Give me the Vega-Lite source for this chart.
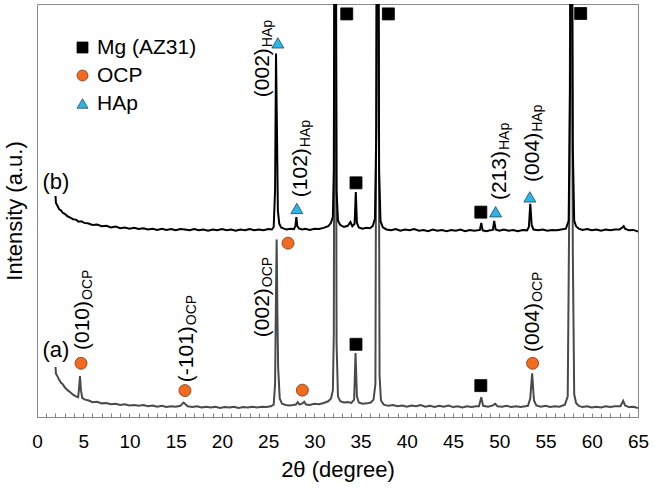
{
  "$schema": "https://vega.github.io/schema/vega-lite/v6.json",
  "autosize": "none",
  "width": 601,
  "height": 413,
  "padding": {"left": 37, "top": 4, "right": 17, "bottom": 73},
  "background": "white",
  "config": {
    "font": "Liberation Sans",
    "view": {"stroke": "#8a8a8a", "strokeWidth": 1},
    "legend": {
      "orient": "none",
      "legendX": 35,
      "legendY": 33,
      "labelFontSize": 21,
      "labelColor": "#000000",
      "labelFont": "Liberation Sans",
      "symbolSize": 120,
      "symbolStrokeWidth": 0.8,
      "labelOffset": 4,
      "rowPadding": 6,
      "padding": 0
    }
  },
  "datasets": {
    "traceB": [
      {"x":2.0,"y":53.5},{"x":2.05,"y":51.8},{"x":2.2,"y":51.2},{"x":2.4,"y":50.3},{"x":2.6,"y":50.0},{"x":2.8,"y":49.4},
      {"x":3.0,"y":49.2},{"x":3.3,"y":48.6},{"x":3.6,"y":48.3},{"x":3.9,"y":47.9},{"x":4.2,"y":47.8},{"x":4.5,"y":47.3},
      {"x":4.8,"y":47.4},{"x":5.1,"y":47.0},{"x":5.5,"y":46.9},{"x":6.0,"y":46.5},{"x":6.5,"y":46.6},{"x":7.0,"y":46.2},
      {"x":7.5,"y":46.3},{"x":8.0,"y":45.9},{"x":8.5,"y":46.1},{"x":9.0,"y":45.7},{"x":9.5,"y":45.9},{"x":10.0,"y":45.6},
      {"x":10.5,"y":45.8},{"x":11.0,"y":45.5},{"x":11.5,"y":45.7},{"x":12.0,"y":45.4},{"x":12.5,"y":45.6},{"x":13.0,"y":45.3},
      {"x":13.5,"y":45.6},{"x":14.0,"y":45.3},{"x":14.5,"y":45.5},{"x":15.0,"y":45.2},{"x":15.5,"y":45.5},{"x":16.0,"y":45.4},
      {"x":16.5,"y":45.2},{"x":17.0,"y":45.5},{"x":17.5,"y":45.2},{"x":18.0,"y":45.4},{"x":18.5,"y":45.1},{"x":19.0,"y":45.4},
      {"x":19.5,"y":45.2},{"x":20.0,"y":45.5},{"x":20.5,"y":45.2},{"x":21.0,"y":45.4},{"x":21.5,"y":45.1},{"x":22.0,"y":45.4},
      {"x":22.5,"y":45.2},{"x":23.0,"y":45.5},{"x":23.5,"y":45.2},{"x":24.0,"y":45.4},{"x":24.5,"y":45.2},{"x":25.0,"y":45.5},
      {"x":25.4,"y":45.4},{"x":25.6,"y":46.0},{"x":25.75,"y":55},{"x":25.85,"y":88},{"x":25.95,"y":70},{"x":26.05,"y":50},
      {"x":26.2,"y":46.8},{"x":26.4,"y":45.9},{"x":26.7,"y":45.6},{"x":27.0,"y":45.4},{"x":27.4,"y":45.6},{"x":27.8,"y":45.5},
      {"x":27.95,"y":46.3},{"x":28.05,"y":48.4},{"x":28.15,"y":46.2},{"x":28.35,"y":45.6},{"x":28.7,"y":45.4},{"x":29.0,"y":45.6},
      {"x":29.5,"y":45.3},{"x":30.0,"y":45.6},{"x":30.5,"y":45.5},{"x":31.0,"y":45.8},{"x":31.5,"y":46.2},{"x":31.8,"y":47.0},
      {"x":32.0,"y":48.5},{"x":32.1,"y":60},{"x":32.2,"y":150},{"x":32.3,"y":150},{"x":32.4,"y":55},{"x":32.55,"y":47.5},
      {"x":32.8,"y":46.5},{"x":33.2,"y":46.0},{"x":33.6,"y":46.3},{"x":33.9,"y":47.2},{"x":34.1,"y":46.2},{"x":34.35,"y":46.8},
      {"x":34.48,"y":54.5},{"x":34.6,"y":47.0},{"x":34.8,"y":45.9},{"x":35.2,"y":45.6},{"x":35.6,"y":45.8},{"x":36.0,"y":45.7},
      {"x":36.3,"y":46.2},{"x":36.55,"y":48},{"x":36.7,"y":70},{"x":36.8,"y":150},{"x":36.9,"y":150},{"x":37.0,"y":60},
      {"x":37.15,"y":47.5},{"x":37.4,"y":45.9},{"x":37.8,"y":45.4},{"x":38.3,"y":45.2},{"x":38.8,"y":45.5},{"x":39.3,"y":45.1},
      {"x":39.8,"y":45.4},{"x":40.3,"y":45.2},{"x":40.8,"y":45.5},{"x":41.3,"y":45.1},{"x":41.8,"y":45.3},{"x":42.3,"y":45.0},
      {"x":42.8,"y":45.4},{"x":43.3,"y":45.1},{"x":43.8,"y":45.3},{"x":44.3,"y":45.0},{"x":44.8,"y":45.3},{"x":45.3,"y":45.1},
      {"x":45.8,"y":45.4},{"x":46.3,"y":45.0},{"x":46.8,"y":45.3},{"x":47.3,"y":45.1},{"x":47.9,"y":45.3},{"x":48.05,"y":47.0},
      {"x":48.2,"y":45.2},{"x":48.6,"y":45.0},{"x":49.0,"y":45.2},{"x":49.3,"y":45.3},{"x":49.45,"y":47.5},{"x":49.6,"y":45.4},
      {"x":50.0,"y":45.1},{"x":50.5,"y":45.4},{"x":51.0,"y":45.1},{"x":51.5,"y":45.3},{"x":52.0,"y":45.0},{"x":52.5,"y":45.3},
      {"x":53.0,"y":45.2},{"x":53.2,"y":46.0},{"x":53.35,"y":51.6},{"x":53.5,"y":46.5},{"x":53.7,"y":45.4},{"x":54.2,"y":45.2},
      {"x":54.7,"y":45.4},{"x":55.2,"y":45.1},{"x":55.7,"y":45.3},{"x":56.2,"y":45.2},{"x":56.7,"y":45.4},{"x":57.2,"y":45.6},
      {"x":57.5,"y":47.5},{"x":57.65,"y":80},{"x":57.75,"y":150},{"x":57.85,"y":150},{"x":57.95,"y":65},{"x":58.1,"y":47.5},
      {"x":58.3,"y":46.2},{"x":58.6,"y":45.6},{"x":59.0,"y":45.3},{"x":59.5,"y":45.5},{"x":60.0,"y":45.2},{"x":60.5,"y":45.4},
      {"x":61.0,"y":45.1},{"x":61.5,"y":45.4},{"x":62.0,"y":45.2},{"x":62.5,"y":45.4},{"x":63.0,"y":45.4},{"x":63.3,"y":45.9},
      {"x":63.45,"y":46.2},{"x":63.6,"y":45.6},{"x":64.0,"y":45.2},{"x":64.5,"y":45.3},{"x":65.0,"y":44.9}
    ],
    "traceA": [
      {"x":2.0,"y":12.1},{"x":2.05,"y":10.5},{"x":2.2,"y":9.9},{"x":2.4,"y":9.0},{"x":2.6,"y":8.3},{"x":2.8,"y":7.9},
      {"x":3.0,"y":7.2},{"x":3.3,"y":6.5},{"x":3.6,"y":6.0},{"x":3.9,"y":5.4},{"x":4.2,"y":5.0},{"x":4.45,"y":4.8},
      {"x":4.55,"y":7.0},{"x":4.65,"y":9.9},{"x":4.75,"y":6.5},{"x":4.9,"y":4.6},{"x":5.2,"y":4.2},{"x":5.6,"y":4.0},
      {"x":6.0,"y":3.6},{"x":6.5,"y":3.7},{"x":7.0,"y":3.3},{"x":7.5,"y":3.4},{"x":8.0,"y":3.1},{"x":8.5,"y":3.2},
      {"x":9.0,"y":2.9},{"x":9.5,"y":3.1},{"x":10.0,"y":2.8},{"x":10.5,"y":2.9},{"x":11.0,"y":2.7},{"x":11.5,"y":2.9},
      {"x":12.0,"y":2.6},{"x":12.5,"y":2.8},{"x":13.0,"y":2.5},{"x":13.5,"y":2.7},{"x":14.0,"y":2.4},{"x":14.5,"y":2.6},
      {"x":15.0,"y":2.5},{"x":15.5,"y":2.7},{"x":15.85,"y":3.5},{"x":16.0,"y":3.2},{"x":16.3,"y":2.6},{"x":16.8,"y":2.4},
      {"x":17.3,"y":2.6},{"x":17.8,"y":2.3},{"x":18.3,"y":2.5},{"x":18.8,"y":2.3},{"x":19.3,"y":2.5},{"x":19.8,"y":2.2},
      {"x":20.3,"y":2.4},{"x":20.8,"y":2.3},{"x":21.3,"y":2.5},{"x":21.8,"y":2.2},{"x":22.3,"y":2.4},{"x":22.8,"y":2.3},
      {"x":23.3,"y":2.5},{"x":23.8,"y":2.3},{"x":24.3,"y":2.5},{"x":24.8,"y":2.4},{"x":25.3,"y":2.6},{"x":25.6,"y":3.0},
      {"x":25.75,"y":8},{"x":25.85,"y":30},{"x":25.92,"y":43},{"x":26.0,"y":25},{"x":26.08,"y":12},{"x":26.15,"y":9},
      {"x":26.25,"y":4.5},{"x":26.5,"y":3.2},{"x":26.9,"y":2.9},{"x":27.3,"y":2.8},{"x":27.7,"y":2.9},{"x":28.0,"y":3.0},
      {"x":28.2,"y":3.6},{"x":28.4,"y":3.0},{"x":28.7,"y":3.3},{"x":28.9,"y":3.7},{"x":29.1,"y":3.0},{"x":29.5,"y":2.9},
      {"x":30.0,"y":3.2},{"x":30.5,"y":3.1},{"x":31.0,"y":3.4},{"x":31.5,"y":3.8},{"x":31.8,"y":4.5},{"x":32.0,"y":6.5},
      {"x":32.1,"y":20},{"x":32.2,"y":130},{"x":32.3,"y":130},{"x":32.4,"y":18},{"x":32.55,"y":5},{"x":32.8,"y":3.8},
      {"x":33.2,"y":3.5},{"x":33.6,"y":3.6},{"x":34.0,"y":3.4},{"x":34.3,"y":4.2},{"x":34.45,"y":15.5},{"x":34.6,"y":5},
      {"x":34.8,"y":3.5},{"x":35.2,"y":3.2},{"x":35.7,"y":3.3},{"x":36.1,"y":3.5},{"x":36.4,"y":4.2},{"x":36.6,"y":8},
      {"x":36.75,"y":130},{"x":36.9,"y":130},{"x":37.05,"y":10},{"x":37.2,"y":4},{"x":37.5,"y":3.0},{"x":38.0,"y":2.7},
      {"x":38.5,"y":2.9},{"x":39.0,"y":2.6},{"x":39.5,"y":2.8},{"x":40.0,"y":2.5},{"x":40.5,"y":2.8},{"x":41.0,"y":2.6},
      {"x":41.5,"y":2.9},{"x":42.0,"y":2.5},{"x":42.5,"y":2.7},{"x":43.0,"y":2.4},{"x":43.5,"y":2.7},{"x":44.0,"y":2.5},
      {"x":44.5,"y":2.8},{"x":45.0,"y":2.4},{"x":45.5,"y":2.6},{"x":46.0,"y":2.3},{"x":46.5,"y":2.6},{"x":47.0,"y":2.4},
      {"x":47.5,"y":2.6},{"x":47.8,"y":2.6},{"x":48.05,"y":4.8},{"x":48.25,"y":2.7},{"x":48.8,"y":2.5},{"x":49.3,"y":2.8},
      {"x":49.55,"y":3.2},{"x":49.8,"y":2.6},{"x":50.3,"y":2.5},{"x":50.8,"y":2.7},{"x":51.3,"y":2.4},{"x":51.8,"y":2.6},
      {"x":52.3,"y":2.4},{"x":52.8,"y":2.6},{"x":53.1,"y":2.7},{"x":53.35,"y":4.5},{"x":53.55,"y":10.6},{"x":53.75,"y":4.0},
      {"x":54.0,"y":2.8},{"x":54.5,"y":2.5},{"x":55.0,"y":2.7},{"x":55.5,"y":2.4},{"x":56.0,"y":2.6},{"x":56.5,"y":2.5},
      {"x":57.1,"y":3.0},{"x":57.4,"y":5.0},{"x":57.6,"y":60},{"x":57.7,"y":130},{"x":57.82,"y":130},{"x":57.95,"y":40},
      {"x":58.1,"y":5.5},{"x":58.3,"y":3.4},{"x":58.6,"y":2.7},{"x":59.0,"y":2.4},{"x":59.5,"y":2.6},{"x":60.0,"y":2.3},
      {"x":60.5,"y":2.5},{"x":61.0,"y":2.3},{"x":61.5,"y":2.6},{"x":62.0,"y":2.4},{"x":62.5,"y":2.6},{"x":63.1,"y":2.6},
      {"x":63.4,"y":3.9},{"x":63.6,"y":2.8},{"x":64.0,"y":2.4},{"x":64.5,"y":2.5},{"x":65.0,"y":2.2}
    ],
    "markers": [
      {"x":33.5,"y":97.6,"p":"Mg (AZ31)"},
      {"x":38.0,"y":97.6,"p":"Mg (AZ31)"},
      {"x":58.8,"y":97.7,"p":"Mg (AZ31)"},
      {"x":34.5,"y":56.7,"p":"Mg (AZ31)"},
      {"x":48.0,"y":49.6,"p":"Mg (AZ31)"},
      {"x":34.5,"y":17.6,"p":"Mg (AZ31)"},
      {"x":48.0,"y":7.6,"p":"Mg (AZ31)"},
      {"x":4.76,"y":13.0,"p":"OCP"},
      {"x":16.0,"y":6.4,"p":"OCP"},
      {"x":27.15,"y":42.1,"p":"OCP"},
      {"x":28.7,"y":6.5,"p":"OCP"},
      {"x":53.6,"y":13.0,"p":"OCP"},
      {"x":26.05,"y":90.6,"p":"HAp"},
      {"x":28.1,"y":50.5,"p":"HAp"},
      {"x":49.6,"y":49.7,"p":"HAp"},
      {"x":53.3,"y":53.3,"p":"HAp"}
    ],
    "labels": [
      {"x":24.44,"y":89.3,"m":"(002)","s":"HAp"},
      {"x":28.6,"y":65.1,"m":"(102)","s":"HAp"},
      {"x":50.1,"y":64.4,"m":"(213)","s":"HAp"},
      {"x":53.6,"y":68.8,"m":"(004)","s":"HAp"},
      {"x":4.98,"y":28.1,"m":"(010)","s":"OCP"},
      {"x":16.2,"y":22.0,"m":"(-101)","s":"OCP"},
      {"x":24.44,"y":31.2,"m":"(002)","s":"OCP"},
      {"x":53.6,"y":27.6,"m":"(004)","s":"OCP"}
    ],
    "tags": [
      {"x":2.05,"y":56.9,"t":"(b)"},
      {"x":2.05,"y":16.2,"t":"(a)"}
    ]
  },
  "encoding": {
    "x": {
      "field": "x",
      "type": "quantitative",
      "scale": {"domain": [0, 65], "nice": false, "zero": false},
      "axis": {
        "title": "2θ (degree)",
        "titleFontSize": 22,
        "titleFontWeight": "normal",
        "titleColor": "#000000",
        "titlePadding": 8,
        "values": [0,1,2,3,4,5,6,7,8,9,10,11,12,13,14,15,16,17,18,19,20,21,22,23,24,25,26,27,28,29,30,31,32,33,34,35,36,37,38,39,40,41,42,43,44,45,46,47,48,49,50,51,52,53,54,55,56,57,58,59,60,61,62,63,64,65],
        "labelExpr": "datum.value % 5 === 0 ? datum.label : ''",
        "labelFontSize": 19,
        "labelColor": "#000000",
        "labelPadding": 19,
        "labelFlush": false,
        "labelOverlap": false,
        "tickSize": -4,
        "tickColor": "#808080",
        "domainColor": "#8a8a8a",
        "grid": false
      }
    },
    "y": {
      "field": "y",
      "type": "quantitative",
      "scale": {"domain": [0, 100], "nice": false, "zero": false},
      "axis": {
        "title": "Intensity (a.u.)",
        "titleFontSize": 22,
        "titleFontWeight": "normal",
        "titleColor": "#000000",
        "titlePadding": 11,
        "labels": false,
        "ticks": false,
        "domain": false,
        "grid": false
      }
    }
  },
  "layer": [
    {
      "data": {"name": "traceA"},
      "mark": {"type": "line", "color": "#4a4a4a", "strokeWidth": 2, "clip": true}
    },
    {
      "data": {"name": "traceB"},
      "mark": {"type": "line", "color": "#000000", "strokeWidth": 2, "clip": true}
    },
    {
      "data": {"name": "markers"},
      "mark": {"type": "point", "filled": true, "size": 144, "strokeWidth": 0.8, "opacity": 1},
      "encoding": {
        "shape": {
          "field": "p", "type": "nominal",
          "scale": {"domain": ["Mg (AZ31)", "OCP", "HAp"], "range": ["square", "circle", "triangle-up"]},
          "legend": {"title": null}
        },
        "fill": {
          "field": "p", "type": "nominal",
          "scale": {"domain": ["Mg (AZ31)", "OCP", "HAp"], "range": ["#000000", "#F26B1F", "#2BB6E8"]},
          "legend": {"title": null}
        },
        "stroke": {
          "field": "p", "type": "nominal",
          "scale": {"domain": ["Mg (AZ31)", "OCP", "HAp"], "range": ["#000000", "#7a3a12", "#2a4a5a"]},
          "legend": {"title": null}
        }
      }
    },
    {
      "data": {"name": "labels"},
      "mark": {"type": "text", "angle": 270, "align": "right", "baseline": "middle", "fontSize": 21, "color": "#000000"},
      "encoding": {"text": {"field": "m"}}
    },
    {
      "data": {"name": "labels"},
      "mark": {"type": "text", "angle": 270, "align": "left", "baseline": "middle", "fontSize": 14, "dy": 5, "dx": 1, "color": "#000000"},
      "encoding": {"text": {"field": "s"}}
    },
    {
      "data": {"name": "tags"},
      "mark": {"type": "text", "align": "center", "baseline": "middle", "fontSize": 22, "color": "#000000"},
      "encoding": {"text": {"field": "t"}}
    }
  ]
}
